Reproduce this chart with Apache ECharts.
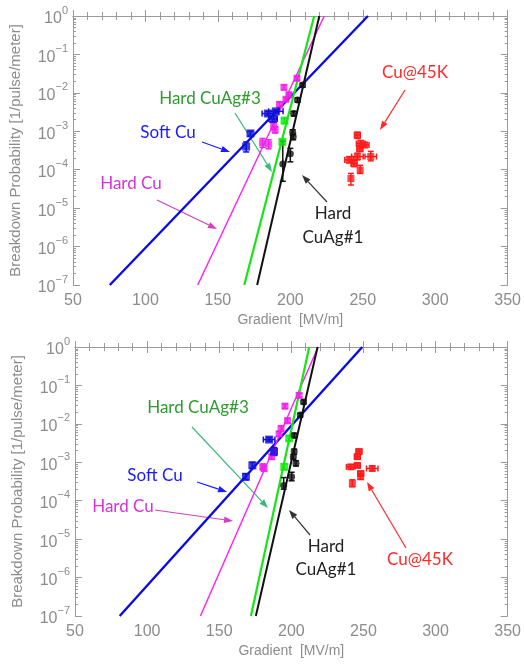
<!DOCTYPE html>
<html>
<head>
<meta charset="utf-8">
<script src="https://cdn.jsdelivr.net/npm/echarts@6/dist/echarts.min.js"></script>
<style>
html, body { margin: 0; padding: 0; background: #fff; }
#chart { width: 524px; height: 665px; }
</style>
</head>
<body>
<div id="chart"></div>
<script>
// [gradient, probability, x error, y low, y high]
var softCuTop = [[169.5, 4.0e-4, 0, 2.9e-4, 5.3e-4], [172.5, 8.8e-4, 0, 7.5e-4, 1.0e-3], [184.5, 2.9e-3, 4, 2.6e-3, 3.3e-3], [188, 2.1e-3, 3, 1.7e-3, 2.5e-3], [190, 3.3e-3, 5, 3.0e-3, 3.6e-3]];
var hardCuTop = [[180.8, 5.0e-4, 0, 3.8e-4, 6.5e-4], [185, 4.6e-4, 0, 3.5e-4, 6.0e-4], [188.5, 1.4e-3, 0, 1.1e-3, 1.8e-3], [189.5, 1.1e-3, 0, 9e-4, 1.3e-3], [192.5, 5.0e-3, 0, 4.3e-3, 5.8e-3], [195.6, 1.4e-2, 0, 1.2e-2, 1.6e-2], [197, 6.8e-3, 0, 6.0e-3, 7.6e-3], [199, 9.0e-3, 0, 8.0e-3, 1.0e-2], [204.6, 2.4e-2, 0, 2.1e-2, 2.7e-2]];
var cuAg3Top = [[194.5, 5.3e-4, 0, 4.6e-4, 6.0e-4], [196, 1.9e-3, 0, 1.6e-3, 2.2e-3]];
var cuAg1Top = [[194.8, 1.4e-4, 0, 5e-5, 5.5e-4], [200, 2.6e-4, 0, 1.6e-4, 3.6e-4], [201.6, 9.5e-4, 0, 8e-4, 1.1e-3], [202, 7.2e-4, 0, 6e-4, 8.5e-4], [202.3, 2.9e-3, 0, 2.5e-3, 3.3e-3], [205, 6.5e-3, 0, 5.7e-3, 7.4e-3], [208.5, 1.6e-2, 0, 1.4e-2, 1.8e-2]];
var cu45kTop = [[246.3, 7.9e-4, 2, 6.5e-4, 9.5e-4], [248.6, 4.8e-4, 3, 4.0e-4, 5.8e-4], [248, 3.5e-4, 2, 3.0e-4, 4.1e-4], [251.3, 4.4e-4, 3, 3.8e-4, 5.1e-4], [240.6, 1.8e-4, 3, 1.5e-4, 2.2e-4], [246.3, 2.2e-4, 4, 1.8e-4, 2.7e-4], [255.5, 2.2e-4, 4, 1.7e-4, 3.0e-4], [248.2, 9.8e-5, 0, 8e-5, 1.3e-4], [241.8, 5.9e-5, 0, 4e-5, 8e-5], [244, 1.45e-4, 2, 1.2e-4, 1.75e-4]];

var softCuBot = [[168.5, 4.2e-4, 0, 3.5e-4, 5.0e-4], [173, 8.3e-4, 0, 7.0e-4, 1.0e-3], [184.6, 3.9e-3, 4, 3.5e-3, 4.4e-3], [188, 1.9e-3, 0, 1.5e-3, 2.4e-3]];
var hardCuBot = [[180.2, 7.6e-4, 0, 6.5e-4, 9e-4], [181.1, 6.9e-4, 0, 6e-4, 8e-4], [186.4, 1.4e-3, 0, 1.2e-3, 1.6e-3], [188.2, 1.9e-3, 0, 1.6e-3, 2.2e-3], [191.5, 5.5e-3, 0, 4.7e-3, 6.3e-3], [192.9, 7.6e-3, 0, 6.5e-3, 8.8e-3], [195.6, 2.9e-2, 0, 2.5e-2, 3.3e-2], [197.4, 1.2e-2, 0, 1.05e-2, 1.4e-2], [205.4, 5.5e-2, 0, 4.8e-2, 6.3e-2]];
var cuAg3Bot = [[195.1, 7.6e-4, 0, 6.5e-4, 9e-4], [198.5, 4.2e-3, 0, 3.6e-3, 4.8e-3]];
var cuAg1Bot = [[194.7, 2.5e-4, 0, 2e-4, 4e-4], [200.2, 4.2e-4, 0, 3.3e-4, 5.5e-4], [203.2, 9.3e-4, 0, 8e-4, 1.1e-3], [201.4, 1.4e-3, 0, 1.2e-3, 1.6e-3], [202, 1.9e-3, 0, 1.6e-3, 2.2e-3], [202, 5.0e-3, 0, 4.4e-3, 5.7e-3], [206.2, 1.7e-2, 0, 1.5e-2, 1.9e-2], [208.5, 3.7e-2, 0, 3.3e-2, 4.2e-2]];
var cu45kBot = [[246.9, 1.9e-3, 2, 1.6e-3, 2.2e-3], [245.8, 1.4e-3, 2, 1.2e-3, 1.6e-3], [241.2, 7.6e-4, 3, 6.6e-4, 8.7e-4], [245.8, 8.3e-4, 2, 7.2e-4, 9.5e-4], [256.1, 6.9e-4, 4, 6e-4, 8e-4], [248.1, 5.1e-4, 2, 4.4e-4, 5.9e-4], [242.3, 2.8e-4, 0, 2.3e-4, 3.5e-4], [248.1, 4.2e-4, 0, 3.6e-4, 4.9e-4]];

// fitted lines, [gradient at 1e-7, gradient at 1]
var fitTop = { soft: [75.4, 253.6], hard: [136.1, 223.4], ag3: [168.2, 216.5], ag1: [177.1, 220] };
var fitBot = { soft: [81, 249.2], hard: [137, 218.6], ag3: [172, 212.4], ag1: [175.4, 218.2] };

var xTicks = [50, 100, 150, 200, 250, 300, 350];
var yDecades = [-7, -6, -5, -4, -3, -2, -1, 0];

var BLUE = '#0a0ae6', MAG = '#ff1aff', GREEN = '#14e614', BLACK = '#111', RED = '#ff1a1a';
var AXC = '#9a9a9a', LBC = '#8c8c8c';

var minorVals = [];
yDecades.slice(0, -1).forEach(function (d) {
  for (var k = 2; k <= 9; k++) minorVals.push(d + Math.log10(k));
});

var chart = echarts.init(document.getElementById('chart'));

function supLabel(v) {
  var e = Math.round(Math.log10(v));
  return '{b|10}{s|' + (e < 0 ? '\u2212' + (-e) : e) + '}';
}

var grids = [
  { left: 73, top: 16, width: 437, height: 269 },
  { left: 75, top: 347, width: 435, height: 269 }
];

var xAxes = [], yAxes = [];
grids.forEach(function (g, i) {
  xAxes.push({
    gridIndex: i, type: 'value', min: xTicks[0], max: xTicks[xTicks.length - 1], interval: 50,
    name: 'Gradient  [MV/m]', nameLocation: 'middle', nameGap: 28,
    nameTextStyle: { color: LBC, fontSize: 14, fontFamily: 'Liberation Sans' },
    axisLine: { lineStyle: { color: AXC } },
    axisTick: { inside: true, length: 6, lineStyle: { color: AXC } },
    minorTick: { show: true, splitNumber: 5, length: 4, lineStyle: { color: AXC } },
    axisLabel: { color: LBC, fontSize: 16, fontFamily: 'Liberation Sans', margin: 8 },
    splitLine: { show: false }
  });
  xAxes.push({
    gridIndex: i, type: 'value', position: 'top', min: xTicks[0], max: xTicks[xTicks.length - 1], interval: 50,
    axisLine: { lineStyle: { color: AXC } },
    axisTick: { inside: true, length: 6, lineStyle: { color: AXC } },
    minorTick: { show: true, splitNumber: 5, length: 4, lineStyle: { color: AXC } },
    axisLabel: { show: false }, splitLine: { show: false }
  });
  yAxes.push({
    gridIndex: i, type: 'log', min: 1e-7, max: 1, splitNumber: 7,
    name: 'Breakdown Probability [1/pulse/meter]', nameLocation: 'middle', nameGap: 50,
    nameTextStyle: { color: LBC, fontSize: 15, fontFamily: 'Liberation Sans' },
    axisLine: { lineStyle: { color: AXC } },
    axisTick: { inside: true, length: 7, lineStyle: { color: AXC } },
    axisLabel: {
      formatter: supLabel, margin: 5,
      rich: {
        b: { color: LBC, fontSize: 16, fontFamily: 'Liberation Sans', lineHeight: 22, verticalAlign: 'bottom' },
        s: { color: LBC, fontSize: 11, fontFamily: 'Liberation Sans', lineHeight: 22, verticalAlign: 'top' }
      }
    },
    splitLine: { show: false }
  });
  yAxes.push({
    gridIndex: i, type: 'value', min: -7, max: 0, position: 'left',
    axisLine: { show: false },
    axisTick: { inside: true, length: 3, customValues: minorVals, lineStyle: { color: AXC } },
    axisLabel: { show: false }, splitLine: { show: false }
  });
  yAxes.push({
    gridIndex: i, type: 'value', min: -7, max: 0, position: 'right',
    axisLine: { show: true, lineStyle: { color: AXC } },
    axisTick: { inside: true, length: 3, customValues: minorVals, lineStyle: { color: AXC } },
    axisLabel: { show: false }, splitLine: { show: false }
  });
  yAxes.push({
    gridIndex: i, type: 'value', min: -7, max: 0, position: 'right',
    axisLine: { show: false },
    axisTick: { inside: true, length: 7, customValues: yDecades, lineStyle: { color: AXC } },
    axisLabel: { show: false }, splitLine: { show: false }
  });
});

function errRender(params, api) {
  var x = api.value(0), y = api.value(1), dx = api.value(2), lo = api.value(3), hi = api.value(4);
  var st = { stroke: api.visual('color'), lineWidth: 1.5 };
  var kids = [];
  if (hi > lo) {
    var a = api.coord([x, lo]), b = api.coord([x, hi]);
    kids.push({ type: 'line', shape: { x1: a[0], y1: a[1], x2: b[0], y2: b[1] }, style: st });
    kids.push({ type: 'line', shape: { x1: a[0] - 3, y1: a[1], x2: a[0] + 3, y2: a[1] }, style: st });
    kids.push({ type: 'line', shape: { x1: b[0] - 3, y1: b[1], x2: b[0] + 3, y2: b[1] }, style: st });
  }
  if (dx > 0) {
    var l = api.coord([x - dx, y]), r = api.coord([x + dx, y]);
    kids.push({ type: 'line', shape: { x1: l[0], y1: l[1], x2: r[0], y2: r[1] }, style: st });
    kids.push({ type: 'line', shape: { x1: l[0], y1: l[1] - 3, x2: l[0], y2: l[1] + 3 }, style: st });
    kids.push({ type: 'line', shape: { x1: r[0], y1: r[1] - 3, x2: r[0], y2: r[1] + 3 }, style: st });
  }
  return { type: 'group', children: kids };
}

var series = [];
function addPanel(i, fit, sets) {
  var xi = i * 2, yi = i * 4;
  var lines = [['soft', BLUE, 2.4], ['hard', MAG, 1.4], ['ag3', GREEN, 2.2], ['ag1', BLACK, 2]];
  lines.forEach(function (L) {
    series.push({
      type: 'line', xAxisIndex: xi, yAxisIndex: yi, symbol: 'none', silent: true,
      lineStyle: { color: L[1], width: L[2] }, z: 2,
      data: [[fit[L[0]][0], 1e-7], [fit[L[0]][1], 1]]
    });
  });
  sets.forEach(function (s) {
    series.push({
      type: 'custom', xAxisIndex: xi, yAxisIndex: yi, renderItem: errRender,
      itemStyle: { color: s[1] }, encode: { x: 0, y: 1 }, data: s[0], z: 3, silent: true
    });
    series.push({
      type: 'scatter', xAxisIndex: xi, yAxisIndex: yi, symbol: s[2], symbolSize: s[3],
      itemStyle: { color: s[1] }, data: s[0].map(function (p) { return [p[0], p[1]]; }), z: 4, silent: true
    });
  });
}
addPanel(0, fitTop, [
  [hardCuTop, '#f020e8', 'rect', 7], [softCuTop, '#1010d8', 'rect', 8], [cuAg3Top, GREEN, 'rect', 8],
  [cuAg1Top, BLACK, 'circle', 7], [cu45kTop, RED, 'rect', 7]
]);
addPanel(1, fitBot, [
  [hardCuBot, '#f020e8', 'rect', 7], [softCuBot, '#1010d8', 'rect', 8], [cuAg3Bot, GREEN, 'rect', 8],
  [cuAg1Bot, BLACK, 'circle', 7], [cu45kBot, RED, 'rect', 7]
]);

var FONT = 'Lato';
function label(text, x, y, color) {
  return { type: 'text', x: x, y: y, z: 10, style: { text: text, fill: color, font: '17px ' + FONT, align: 'center', verticalAlign: 'middle' } };
}
function arrow(x1, y1, x2, y2, color) {
  var ang = Math.atan2(y2 - y1, x2 - x1), len = 9, w = 3.2;
  var bx = x2 - len * Math.cos(ang), by = y2 - len * Math.sin(ang);
  var px = -Math.sin(ang) * w, py = Math.cos(ang) * w;
  return {
    type: 'group', z: 10, children: [
      { type: 'line', shape: { x1: x1, y1: y1, x2: bx, y2: by }, style: { stroke: color, lineWidth: 1.2 } },
      { type: 'polygon', shape: { points: [[x2, y2], [bx + px, by + py], [bx - px, by - py]] }, style: { fill: color } }
    ]
  };
}

var TXG = '#2f9a2f', TXB = '#1a1aff', TXM = '#d633d6', TXR = '#ff2a2a', TXK = '#222';
var graphics = [
  label('Hard CuAg#3', 210, 99, TXG), arrow(235, 113, 272, 172, '#3cb87a'),
  label('Soft Cu', 168, 133, TXB), arrow(202, 142, 230, 152, TXB),
  label('Hard Cu', 131, 184, TXM), arrow(157, 200, 217, 229, '#d040c0'),
  label('Cu@45K', 415, 73, TXR), arrow(405, 90, 380, 130, TXR),
  label('Hard', 333, 214, TXK), label('CuAg#1', 333, 238, TXK), arrow(327, 202, 302, 175, '#333'),

  label('Hard CuAg#3', 198, 408, TXG), arrow(192, 427, 268, 508, '#3cb87a'),
  label('Soft Cu', 155, 476, TXB), arrow(197, 482, 227, 492, TXB),
  label('Hard Cu', 123, 507, TXM), arrow(155, 510, 233, 521, '#d040c0'),
  label('Cu@45K', 420, 560, TXR), arrow(406, 548, 367, 482, TXR),
  label('Hard', 326, 547, TXK), label('CuAg#1', 326, 570, TXK), arrow(310, 535, 289, 510, '#333')
];

chart.setOption({
  animation: false,
  backgroundColor: '#fff',
  grid: grids,
  xAxis: xAxes,
  yAxis: yAxes,
  series: series,
  graphic: graphics
});
</script>
</body>
</html>
